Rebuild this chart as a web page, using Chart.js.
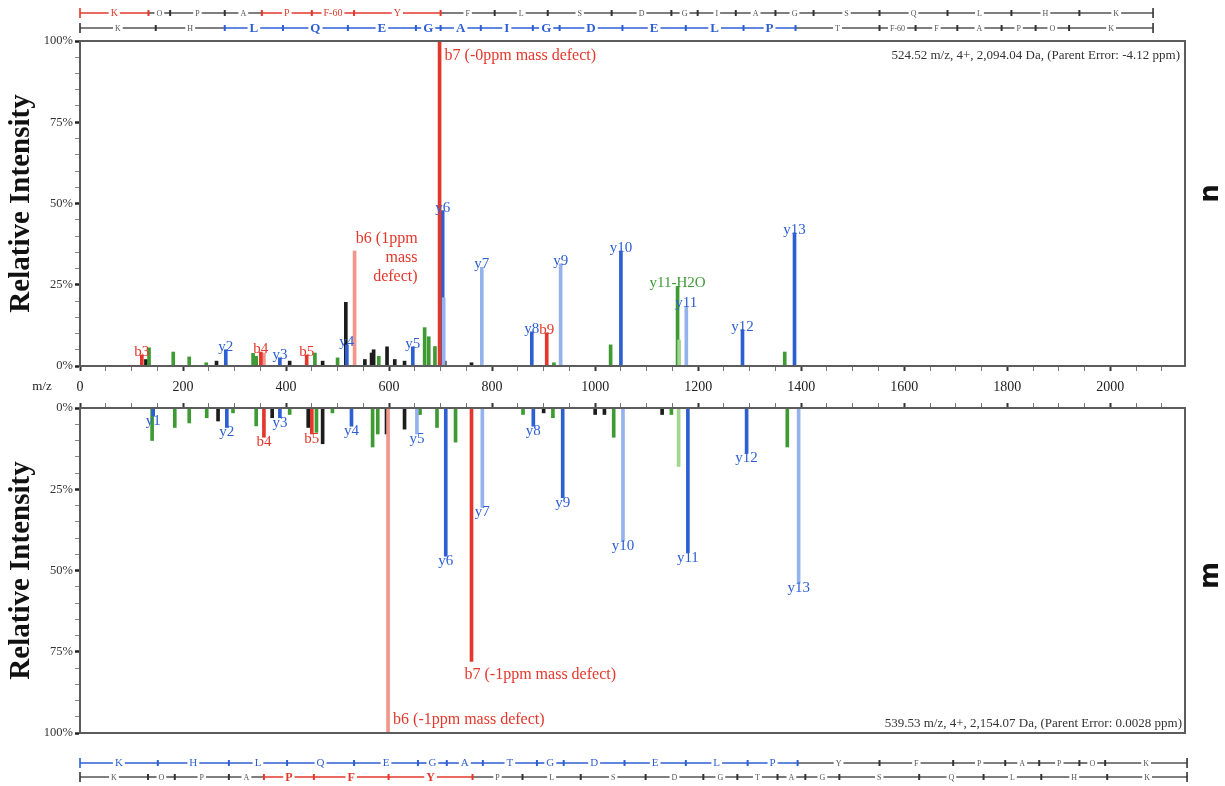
<!DOCTYPE html>
<html>
<head>
<meta charset="utf-8">
<title>Mirror MS/MS spectrum</title>
<script src="https://cdn.jsdelivr.net/npm/chart.js@4.4.1/dist/chart.umd.min.js"></script>
<style>
html,body{margin:0;padding:0;background:#fff;}
body{width:1225px;height:786px;position:relative;overflow:hidden;}
.pane{position:absolute;left:0;width:1225px;}
#paneTop{top:0;height:395px;}
#paneBot{top:395px;height:391px;}
</style>
</head>
<body>
<div class="pane" id="paneTop"><canvas id="specTop"></canvas></div>
<div class="pane" id="paneBot"><canvas id="specBot"></canvas></div>
<script>
// ---------- m/z range ----------
const MZ_MAX = 2145;

// ---------- upper spectrum (m/z, relative intensity %) ----------
const topRedMz = [120, 351, 440, 698, 906];
const topRedInt = [3.4, 4.3, 3.4, 100, 10.2];
const topPinkMz = [533, 357];
const topPinkInt = [35.4, 4.0];
const topBlueMz = [283, 388, 518, 646, 704, 877, 1050, 1286, 1387];
const topBlueInt = [5.0, 2.5, 6.5, 5.9, 47.8, 10.5, 35.4, 11.2, 41.0];
const topLightBlueMz = [706, 780, 933, 1177];
const topLightBlueInt = [21.0, 30.4, 31.4, 18.3];
const topGreenMz = [134, 181, 212, 245, 336, 342, 456, 500, 580, 669, 677, 689, 920, 1030, 1160, 1368];
const topGreenInt = [5.6, 4.3, 2.8, 1.0, 3.9, 3.0, 4.0, 2.5, 3.0, 11.8, 9.0, 6.0, 1.0, 6.5, 24.5, 4.3];
const topLightGreenMz = [1163];
const topLightGreenInt = [8.0];
const topBlackMz = [128, 265, 407, 471, 516, 553, 566, 570, 596, 611, 630, 708, 760];
const topBlackInt = [2.0, 1.5, 1.5, 1.5, 19.6, 2.0, 4.0, 5.0, 5.9, 2.0, 1.5, 1.5, 1.0];

// ---------- lower (mirrored) spectrum ----------
const botRedMz = [357, 450, 760];
const botRedInt = [9.0, 8.0, 78.0];
const botPinkMz = [598];
const botPinkInt = [100];
const botBlueMz = [142, 285, 388, 527, 710, 880, 937, 1180, 1294];
const botBlueInt = [2.5, 6.0, 3.0, 5.6, 45.6, 5.6, 27.6, 44.5, 14.0];
const botLightBlueMz = [654, 781, 1054, 1395];
const botLightBlueInt = [8.0, 30.6, 41.0, 54.0];
const botGreenMz = [140, 184, 212, 246, 297, 342, 407, 459, 490, 568, 578, 660, 693, 729, 860, 918, 1036, 1148, 1373];
const botGreenInt = [10.0, 6.0, 4.6, 3.0, 1.5, 5.5, 2.0, 7.5, 1.5, 12.0, 8.0, 2.0, 6.0, 10.5, 2.0, 3.0, 9.0, 2.0, 12.0];
const botLightGreenMz = [1162];
const botLightGreenInt = [18.0];
const botBlackMz = [268, 373, 443, 471, 595, 630, 657, 900, 1000, 1018, 1130];
const botBlackInt = [4.0, 3.0, 6.0, 11.0, 8.0, 6.5, 2.0, 1.5, 2.0, 2.0, 2.0];

// ---------- fragment ion labels ----------
const topIonText = ['b3', 'y2', 'b4', 'y3', 'b5', 'y4', 'y5', 'y6', 'y7', 'y8', 'b9', 'y9', 'y10', 'y11-H2O', 'y11', 'y12', 'y13'];
const topIonSeries = ['red', 'blue', 'red', 'blue', 'red', 'blue', 'blue', 'blue', 'lightBlue', 'blue', 'red', 'lightBlue', 'blue', 'green', 'lightBlue', 'blue', 'blue'];
const topIonMz = [120, 283, 351, 388, 440, 518, 646, 704, 780, 877, 906, 933, 1050, 1160, 1177, 1286, 1387];

const botIonText = ['y1', 'y2', 'b4', 'y3', 'b5', 'y4', 'y5', 'y6', 'y7', 'y8', 'y9', 'y10', 'y11', 'y12', 'y13'];
const botIonSeries = ['blue', 'blue', 'red', 'blue', 'red', 'blue', 'lightBlue', 'blue', 'lightBlue', 'blue', 'blue', 'lightBlue', 'blue', 'blue', 'lightBlue'];
const botIonMz = [142, 285, 357, 388, 450, 527, 654, 710, 781, 880, 937, 1054, 1180, 1294, 1395];

// mass-defect notes for the strongest b ions
const topNotes = [
  { lines: ['b7 (-0ppm mass defect)'], series: 'red', mz: 698, place: 'nearTop' },
  { lines: ['b6 (1ppm', 'mass', 'defect)'], series: 'pink', mz: 533, place: 'wrapped' }
];
const botNotes = [
  { lines: ['b7 (-1ppm mass defect)'], series: 'red', mz: 760, place: 'belowEnd' },
  { lines: ['b6 (-1ppm mass defect)'], series: 'pink', mz: 598, place: 'besideEnd' }
];

const topPrecursor = '524.52 m/z, 4+, 2,094.04 Da, (Parent Error: -4.12 ppm)';
const botPrecursor = '539.53 m/z, 4+, 2,154.07 Da, (Parent Error: 0.0028 ppm)';

// ---------- sequence coverage ladders (boundary m/z + residues) ----------
const seqTop1Letters = ['K', 'O', 'P', 'A', 'P', 'F-60', 'Y', 'F', 'L', 'S', 'D', 'G', 'I', 'A', 'G', 'S', 'Q', 'L', 'H', 'K'];
const seqTop1Mz = [0, 133, 175, 281, 353, 450, 532, 700, 805, 908, 1032, 1148, 1199, 1273, 1350, 1424, 1552, 1684, 1808, 1940, 2083];
const seqTop1Hit = [1, 0, 0, 0, 1, 1, 1, 0, 0, 0, 0, 0, 0, 0, 0, 0, 0, 0, 0, 0];

const seqTop2Letters = ['K', 'H', 'L', 'Q', 'E', 'G', 'A', 'I', 'G', 'D', 'E', 'L', 'P', 'T', 'F-60', 'F', 'A', 'P', 'O', 'K'];
const seqTop2Mz = [0, 147, 281, 394, 520, 652, 700, 778, 879, 931, 1053, 1176, 1288, 1389, 1552, 1622, 1703, 1789, 1855, 1920, 2083];
const seqTop2Hit = [0, 0, 1, 1, 1, 1, 1, 1, 1, 1, 1, 1, 1, 0, 0, 0, 0, 0, 0, 0];

const seqBot1Letters = ['K', 'H', 'L', 'Q', 'E', 'G', 'A', 'T', 'G', 'D', 'E', 'L', 'P', 'Y', 'F', 'P', 'A', 'P', 'O', 'K'];
const seqBot1Mz = [0, 151, 289, 402, 532, 656, 712, 782, 887, 939, 1057, 1176, 1296, 1393, 1552, 1695, 1796, 1862, 1940, 1990, 2149];
const seqBot1Hit = [1, 1, 1, 1, 1, 1, 1, 1, 1, 1, 1, 1, 1, 0, 0, 0, 0, 0, 0, 0];

const seqBot2Letters = ['K', 'O', 'P', 'A', 'P', 'F', 'Y', 'P', 'L', 'S', 'D', 'G', 'T', 'A', 'G', 'S', 'Q', 'L', 'H', 'K'];
const seqBot2Mz = [0, 132, 184, 289, 357, 454, 599, 762, 859, 972, 1098, 1210, 1276, 1354, 1408, 1474, 1629, 1754, 1866, 1994, 2149];
const seqBot2Hit = [0, 0, 0, 0, 1, 1, 1, 0, 0, 0, 0, 0, 0, 0, 0, 0, 0, 0, 0, 0];

// ---------- styling ----------
const SERIF = '"Liberation Serif", "Times New Roman", serif';
const COL = {
  red: '#e3372b', pink: '#f2968c', blue: '#2d5fd3', lightBlue: '#94b3ec',
  green: '#3e9a33', lightGreen: '#a3d592', black: '#1c1c1c'
};
const TEXT_COL = {
  red: '#e3372b', pink: '#e3372b', blue: '#2d5fd3', lightBlue: '#2d5fd3',
  green: '#3e9a33', lightGreen: '#3e9a33', black: '#1c1c1c'
};
// drawing order: lower numbers end up on top
const ORDER = { red: 0, pink: 1, lightBlue: 2, blue: 3, lightGreen: 4, green: 5, black: 6 };

const topSeries = {
  red: [topRedMz, topRedInt], pink: [topPinkMz, topPinkInt],
  blue: [topBlueMz, topBlueInt], lightBlue: [topLightBlueMz, topLightBlueInt],
  green: [topGreenMz, topGreenInt], lightGreen: [topLightGreenMz, topLightGreenInt],
  black: [topBlackMz, topBlackInt]
};
const botSeries = {
  red: [botRedMz, botRedInt], pink: [botPinkMz, botPinkInt],
  blue: [botBlueMz, botBlueInt], lightBlue: [botLightBlueMz, botLightBlueInt],
  green: [botGreenMz, botGreenInt], lightGreen: [botLightGreenMz, botLightGreenInt],
  black: [botBlackMz, botBlackInt]
};

function buildDatasets(seriesMap) {
  return Object.keys(seriesMap).map(name => {
    const [mz, inten] = seriesMap[name];
    return {
      label: name,
      data: mz.map((m, i) => ({ x: m, y: inten[i] })),
      backgroundColor: COL[name],
      borderWidth: 0,
      barThickness: 3,
      grouped: false,
      order: ORDER[name]
    };
  });
}

function intensityOf(seriesMap, name, mz) {
  const [mzArr, intArr] = seriesMap[name];
  return intArr[mzArr.indexOf(mz)];
}

function xAxis(position, showLabels, height) {
  const major = c => c.tick && c.tick.value % 200 === 0;
  return {
    type: 'linear', position, min: 0, max: MZ_MAX, offset: false,
    grid: {
      drawOnChartArea: false, drawTicks: true, tickLength: 5, offset: false,
      tickColor: c => major(c) ? '#333' : '#777',
      tickWidth: c => major(c) ? 2 : 1
    },
    border: { display: true, color: '#555', width: 2 },
    ticks: {
      display: showLabels, stepSize: 50, autoSkip: false, includeBounds: false,
      maxRotation: 0, minRotation: 0, padding: 8, color: '#222',
      font: { family: SERIF, size: 14 },
      callback: v => v % 200 === 0 ? String(v) : ''
    },
    afterFit: s => { s.height = height; }
  };
}

function yAxis(reverse) {
  const major = c => c.tick && c.tick.value % 25 === 0;
  return {
    type: 'linear', min: 0, max: 100, reverse,
    grid: {
      drawOnChartArea: false, tickLength: 5,
      tickColor: c => major(c) ? '#222' : '#888',
      tickWidth: c => major(c) ? 2.5 : 1
    },
    border: { display: true, color: '#555', width: 2 },
    ticks: {
      stepSize: 5, autoSkip: false, padding: 2, color: '#333',
      font: { family: SERIF, size: 12.5 },
      callback: v => v % 25 === 0 ? v + '%' : ''
    },
    title: {
      display: true, text: 'Relative Intensity', color: '#111',
      font: { family: SERIF, size: 29, weight: 'bold' },
      padding: { top: 4, bottom: 0 }
    },
    afterFit: s => { s.width = 80; }
  };
}

// one coverage ladder: a line broken into residues at fragment m/z values
function drawLadder(ctx, xs, y, bounds, letters, hits, hitColor, hitFont, plainFont) {
  const px = bounds.map(v => xs.getPixelForValue(v));
  ctx.save();
  for (let i = 0; i < letters.length; i++) {
    ctx.strokeStyle = hits[i] ? hitColor : '#555';
    ctx.lineWidth = 1.6;
    ctx.beginPath();
    ctx.moveTo(px[i], y);
    ctx.lineTo(px[i + 1], y);
    ctx.stroke();
  }
  for (let j = 0; j < px.length; j++) {
    const edge = j === 0 || j === px.length - 1;
    const lit = (j > 0 && hits[j - 1]) || (j < letters.length && hits[j]);
    ctx.strokeStyle = lit ? hitColor : '#333';
    ctx.lineWidth = edge ? 1.6 : 2;
    const h = edge ? 5 : 3;
    ctx.beginPath();
    ctx.moveTo(px[j], y - h);
    ctx.lineTo(px[j], y + h);
    ctx.stroke();
  }
  ctx.textAlign = 'center';
  ctx.textBaseline = 'middle';
  for (let i = 0; i < letters.length; i++) {
    const cx = (px[i] + px[i + 1]) / 2;
    ctx.font = hits[i] ? hitFont : plainFont;
    const w = ctx.measureText(letters[i]).width;
    ctx.fillStyle = '#fff';
    ctx.fillRect(cx - w / 2 - 2, y - 4, w + 4, 8);
    ctx.fillStyle = hits[i] ? hitColor : '#555';
    ctx.fillText(letters[i], cx, y + 0.5);
  }
  ctx.restore();
}

function drawSideTitle(ctx, text, x, y) {
  ctx.save();
  ctx.translate(x, y);
  ctx.rotate(-Math.PI / 2);
  ctx.font = 'bold 26px "DejaVu Sans", sans-serif';
  ctx.fillStyle = '#111';
  ctx.textAlign = 'center';
  ctx.textBaseline = 'middle';
  ctx.fillText(text, 0, 0);
  ctx.restore();
}

const framePlugin = {
  id: 'frame',
  afterDraw(chart) {
    const { ctx, chartArea: a } = chart;
    ctx.save();
    ctx.strokeStyle = '#5c5c5c';
    ctx.lineWidth = 2;
    ctx.strokeRect(a.left, a.top, a.right - a.left, a.bottom - a.top);
    ctx.restore();
  }
};

const ION_FONT = '15px ' + SERIF;
const NOTE_FONT = '16px ' + SERIF;
const INFO_FONT = '13px ' + SERIF;

const topDecor = {
  id: 'topDecor',
  afterDraw(chart) {
    const { ctx, chartArea: a, scales: { x, y } } = chart;
    ctx.save();
    // ion labels sit on the tips of their peaks
    ctx.font = ION_FONT;
    ctx.textAlign = 'center';
    ctx.textBaseline = 'middle';
    topIonText.forEach((t, i) => {
      const v = intensityOf(topSeries, topIonSeries[i], topIonMz[i]);
      ctx.fillStyle = TEXT_COL[topIonSeries[i]];
      ctx.fillText(t, x.getPixelForValue(topIonMz[i]), y.getPixelForValue(v) - 3);
    });
    ctx.font = NOTE_FONT;
    topNotes.forEach(n => {
      const v = intensityOf(topSeries, n.series, n.mz);
      const px = x.getPixelForValue(n.mz), py = y.getPixelForValue(v);
      ctx.fillStyle = TEXT_COL[n.series];
      if (n.place === 'nearTop') {
        ctx.textAlign = 'left';
        ctx.fillText(n.lines[0], px + 5, a.top + 15);
      } else {
        ctx.textAlign = 'right';
        n.lines.forEach((ln, k) => ctx.fillText(ln, px + 63, py - 12 + k * 19));
      }
    });
    // precursor summary
    ctx.font = INFO_FONT;
    ctx.fillStyle = '#333';
    ctx.textAlign = 'right';
    ctx.fillText(topPrecursor, a.right - 5, a.top + 15);
    // axis caption next to the m/z tick labels
    ctx.font = '13px ' + SERIF;
    ctx.fillStyle = '#222';
    ctx.textAlign = 'center';
    ctx.fillText('m/z', a.left - 38, a.bottom + 21);
    ctx.restore();

    drawLadder(ctx, x, a.top - 28, seqTop1Mz, seqTop1Letters, seqTop1Hit, COL.red,
      '10px ' + SERIF, '8px ' + SERIF);
    drawLadder(ctx, x, a.top - 13, seqTop2Mz, seqTop2Letters, seqTop2Hit, COL.blue,
      'bold 13px ' + SERIF, '8px ' + SERIF);
    drawSideTitle(ctx, 'n', a.right + 26, (a.top + a.bottom) / 2 - 10);
  }
};

const botDecor = {
  id: 'botDecor',
  afterDraw(chart) {
    const { ctx, chartArea: a, scales: { x, y } } = chart;
    ctx.save();
    ctx.font = ION_FONT;
    ctx.textAlign = 'center';
    ctx.textBaseline = 'middle';
    botIonText.forEach((t, i) => {
      const v = intensityOf(botSeries, botIonSeries[i], botIonMz[i]);
      ctx.fillStyle = TEXT_COL[botIonSeries[i]];
      ctx.fillText(t, x.getPixelForValue(botIonMz[i]), y.getPixelForValue(v) + 5);
    });
    ctx.font = NOTE_FONT;
    ctx.textAlign = 'left';
    botNotes.forEach(n => {
      const v = intensityOf(botSeries, n.series, n.mz);
      const px = x.getPixelForValue(n.mz), py = y.getPixelForValue(v);
      ctx.fillStyle = TEXT_COL[n.series];
      if (n.place === 'belowEnd') ctx.fillText(n.lines[0], px - 7, py + 13);
      else ctx.fillText(n.lines[0], px + 5, py - 13);
    });
    ctx.font = INFO_FONT;
    ctx.fillStyle = '#333';
    ctx.textAlign = 'right';
    ctx.fillText(botPrecursor, a.right - 3, a.bottom - 9);
    ctx.restore();

    drawLadder(ctx, x, a.bottom + 30, seqBot1Mz, seqBot1Letters, seqBot1Hit, COL.blue,
      '11px ' + SERIF, '8px ' + SERIF);
    drawLadder(ctx, x, a.bottom + 44, seqBot2Mz, seqBot2Letters, seqBot2Hit, COL.red,
      'bold 12px ' + SERIF, '8px ' + SERIF);
    drawSideTitle(ctx, 'm', a.right + 26, (a.top + a.bottom) / 2 + 5);
  }
};

function baseOptions(padding, xCfg, yCfg) {
  return {
    responsive: true, maintainAspectRatio: false, animation: false,
    devicePixelRatio: 1, events: [],
    layout: { padding },
    plugins: { legend: { display: false }, tooltip: { enabled: false } },
    scales: { x: xCfg, y: yCfg }
  };
}

new Chart(document.getElementById('specTop'), {
  type: 'bar',
  data: { datasets: buildDatasets(topSeries) },
  options: baseOptions({ top: 41, right: 40, bottom: 0, left: 0 },
    xAxis('bottom', true, 29), yAxis(false)),
  plugins: [framePlugin, topDecor]
});

new Chart(document.getElementById('specBot'), {
  type: 'bar',
  data: { datasets: buildDatasets(botSeries) },
  options: baseOptions({ top: 0, right: 40, bottom: 53, left: 0 },
    xAxis('top', false, 13), yAxis(true)),
  plugins: [framePlugin, botDecor]
});
</script>
</body>
</html>
